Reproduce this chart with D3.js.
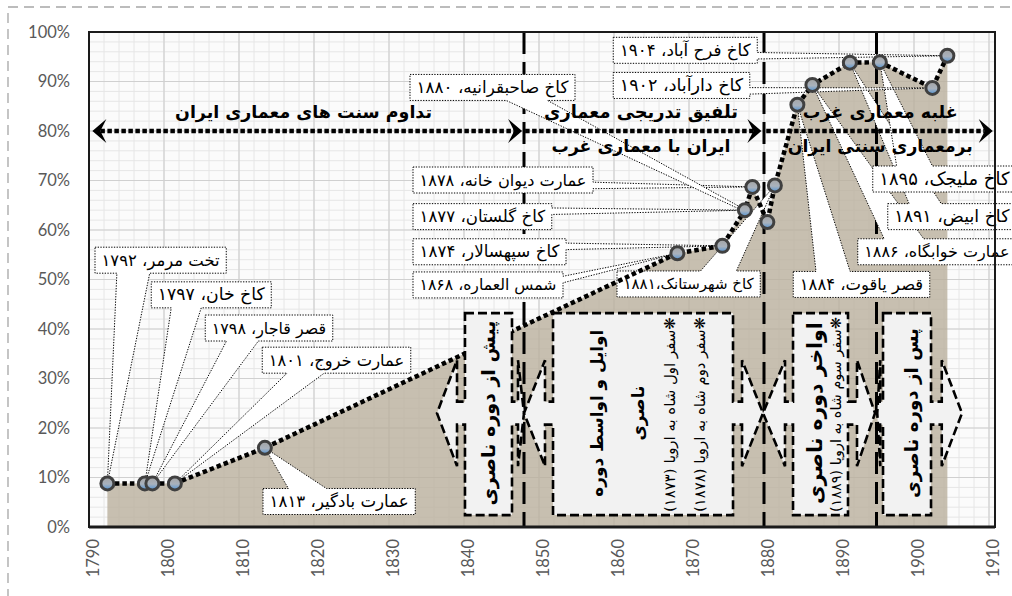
<!DOCTYPE html>
<html>
<head>
<meta charset="utf-8">
<script src="https://cdn.jsdelivr.net/npm/d3@7"></script>
<style>
  body { margin: 0; background: #fff; }
  svg text { font-family: "DejaVu Sans", sans-serif; }
  .axis text { font-family: Lato, "Open Sans", sans-serif; fill: #595959; }
</style>
</head>
<body>
<div id="chart"></div>
<script>
// ---- data ----
var years = [1792, 1797, 1798, 1801, 1813, 1868, 1874, 1877, 1878, 1880, 1881, 1884, 1886, 1891, 1895, 1902, 1904];
var shares = [8.8, 8.8, 8.8, 8.8, 16, 55.3, 56.8, 64, 68.7, 61.6, 69, 85.3, 89.3, 93.8, 93.9, 88.7, 95.2];
var buildings = ["تخت مرمر، ۱۷۹۲", "کاخ خان، ۱۷۹۷", "قصر قاجار، ۱۷۹۸", "عمارت خروج، ۱۸۰۱",
  "عمارت بادگیر، ۱۸۱۳", "شمس العماره، ۱۸۶۸", "کاخ سپهسالار، ۱۸۷۴", "کاخ گلستان، ۱۸۷۷",
  "عمارت دیوان خانه، ۱۸۷۸", "کاخ صاحبقرانیه، ۱۸۸۰", "کاخ شهرستانک،۱۸۸۱", "قصر یاقوت، ۱۸۸۴",
  "عمارت خوابگاه، ۱۸۸۶", "کاخ ابیض، ۱۸۹۱", "کاخ ملیجک، ۱۸۹۵", "کاخ دارآباد، ۱۹۰۲", "کاخ فرح آباد، ۱۹۰۴"];
var splits = [1848, 1880, 1895];
var eraTitles = [["تداوم سنت های معماری ایران"],
  ["تلفیق تدریجی معماری", "ایران با معماری غرب"],
  ["غلبه معماری غرب", "برمعماری سنتی ایران"]];
var periodTitles = [["پیش از دوره ناصری"], ["اوایل و اواسط دوره", "ناصری"], ["اواخر دوره ناصری"], ["پس از دوره ناصری"]];
var periodNotes = [[], ["❋سفر اول شاه به اروپا (۱۸۷۳)", "❋سفر دوم شاه به اروپا (۱۸۷۸)"], ["❋سفر سوم شاه به اروپا (۱۸۸۹)"], []];
var xTicks = d3.range(1790, 1911, 10);
var yTicks = d3.range(0, 101, 10);

// ---- layout (in axis units: year, percent) ----
var MID = 0.45; // markers sit mid-year on the date axis
// callout boxes: [left year, right year, centre %]
var calloutPos = [[1790.8, 1808.3, 53.9], [1798.3, 1814.3, 46.9], [1805.5, 1822.5, 40.2], [1813.1, 1832.9, 33.7],
  [1813.2, 1833.5, 5.15], [1833.2, 1853.2, 48.9], [1833.2, 1853.6, 55.6], [1833.2, 1851.7, 62.7],
  [1833.2, 1857.2, 70.1], [1832.8, 1854.8, 88.8], [1860.4, 1879.5, 49.1], [1883.9, 1902.1, 49.0],
  [1892.5, 1913.6, 55.6], [1896.5, 1913.6, 62.7], [1894.5, 1913.6, 70.3], [1859.9, 1878.1, 89.2], [1859.9, 1879.1, 96.3]];
// era headings: centre year, baselines %, widths px
var eraPos = [[1818.6, [82.6], [257]], [1863.6, [82.6, 75.75], [194, 179]], [1895.5, [82.6, 75.75], [155, 185]]];
// period boxes: body x1,x2, left tip/base, right base/tip
var periodPos = [[1840.13, 1846.4, 1836.4, 1839.07, 1847.2, 1848.0],
  [1851.87, 1875.87, 1848.0, 1850.8, 1877.07, 1879.87],
  [1883.87, 1891.2, 1879.87, 1882.8, 1892.4, 1894.8],
  [1895.87, 1902.27, 1895.1, 1895.5, 1903.7, 1906.4]];
var periodTitleX = [[1843.2], [1857.73, 1863.2], [1886.8], [1899.6]];
var periodTitleLen = [185, 167, 182, 170];
var periodNoteX = [[], [1867.47, 1871.47], [1889.6], []];

var W = 1012, H = 596;
var svg = d3.select("#chart").append("svg").attr("width", W).attr("height", H);

var x = d3.scaleLinear().domain([1790, 1910]).range([89, 989]);
var y = d3.scaleLinear().domain([0, 100]).range([527, 32]);
var plotL = 89, plotR = 995, plotT = 32, plotB = 527;

// outer dashed frame
svg.append("rect").attr("x", 8).attr("y", 7).attr("width", W + 20).attr("height", H + 20)
  .attr("fill", "none").attr("stroke", "#a6a6a6").attr("stroke-width", 1.3).attr("stroke-dasharray", "10,6");

var defs = svg.append("defs");
var grad = defs.append("linearGradient").attr("id", "mk").attr("x1", 0).attr("y1", 0).attr("x2", 0).attr("y2", 1);
grad.append("stop").attr("offset", "0%").attr("stop-color", "#a3a3a3");
grad.append("stop").attr("offset", "55%").attr("stop-color", "#a9b2bd");
grad.append("stop").attr("offset", "100%").attr("stop-color", "#4f93d6");
defs.append("marker").attr("id", "head").attr("viewBox", "-16 -14 18 28")
  .attr("markerUnits", "userSpaceOnUse").attr("markerWidth", 18).attr("markerHeight", 28)
  .attr("refX", 0).attr("refY", 0).attr("orient", "auto-start-reverse")
  .append("path").attr("d", "M0,0L-14,-12L-8,0L-14,12Z").attr("fill", "#000");

// plot area + grid
svg.append("rect").attr("x", plotL).attr("y", plotT).attr("width", plotR - plotL).attr("height", plotB - plotT)
  .attr("fill", "#fbfbfb");
var grid = svg.append("g");
grid.selectAll(".vm").data(d3.range(1790, 1912, 2)).enter().append("line")
  .attr("x1", d => x(d)).attr("x2", d => x(d)).attr("y1", plotT).attr("y2", plotB)
  .attr("stroke", "#e6e6e6").attr("stroke-width", 1);
grid.selectAll(".hm").data(d3.range(0, 101, 2)).enter().append("line")
  .attr("x1", plotL).attr("x2", plotR).attr("y1", d => y(d)).attr("y2", d => y(d))
  .attr("stroke", "#e6e6e6").attr("stroke-width", 1);
grid.selectAll(".vM").data(xTicks).enter().append("line")
  .attr("x1", d => x(d)).attr("x2", d => x(d)).attr("y1", plotT).attr("y2", plotB)
  .attr("stroke", "#d0d0d0").attr("stroke-width", 1.2);
grid.selectAll(".hM").data(yTicks).enter().append("line")
  .attr("x1", plotL).attr("x2", plotR).attr("y1", d => y(d)).attr("y2", d => y(d))
  .attr("stroke", "#d0d0d0").attr("stroke-width", 1.2);

var pts = years.map(function (yr, i) { return { year: yr, share: shares[i], name: buildings[i] }; });

// area under the series
svg.append("path").datum(pts)
  .attr("fill", "#b9ae9b").attr("fill-opacity", 0.78)
  .attr("d", d3.area().x(d => x(d.year + MID)).y0(y(0)).y1(d => y(d.share)));

// period separators
svg.selectAll(".sep").data(splits).enter().append("line")
  .attr("x1", d => x(d)).attr("x2", d => x(d)).attr("y1", plotT).attr("y2", plotB)
  .attr("stroke", "#000").attr("stroke-width", 3).attr("stroke-dasharray", "22,8");

function fit(sel, w) {
  sel.each(function () {
    var fs = parseFloat(this.getAttribute("font-size"));
    var len = this.getComputedTextLength();
    if (len > 0) this.setAttribute("font-size", (fs * w / len).toFixed(2));
  });
}

// callouts (wedge rectangle shape)
function callout(l, t, r, b, tx, ty) {
  var w = r - l, h = b - t, dx = tx - (l + r) / 2, dy = ty - (t + b) / 2;
  var vert = Math.abs(dy) > Math.abs(dx * h / w);
  var p = [[l, t]], a, c;
  if (vert && dy < 0) { a = l + w * (dx > 0 ? 7 : 2) / 12; c = l + w * (dx > 0 ? 10 : 5) / 12; p.push([a, t], [tx, ty], [c, t]); }
  p.push([r, t]);
  if (!vert && dx > 0) { a = t + h * (dy > 0 ? 7 : 2) / 12; c = t + h * (dy > 0 ? 10 : 5) / 12; p.push([r, a], [tx, ty], [r, c]); }
  p.push([r, b]);
  if (vert && dy > 0) { a = l + w * (dx > 0 ? 10 : 5) / 12; c = l + w * (dx > 0 ? 7 : 2) / 12; p.push([a, b], [tx, ty], [c, b]); }
  p.push([l, b]);
  if (!vert && dx < 0) { a = t + h * (dy > 0 ? 10 : 5) / 12; c = t + h * (dy > 0 ? 7 : 2) / 12; p.push([l, a], [tx, ty], [l, c]); }
  return "M" + p.join("L") + "Z";
}
var cg = svg.append("g");
pts.forEach(function (d, i) {
  var cp = calloutPos[i], l = x(cp[0]), r = x(cp[1]), cy = y(cp[2]);
  cg.append("path").attr("d", callout(l, cy - 13, r, cy + 13, x(d.year + MID), y(d.share)))
    .attr("fill", "#fff").attr("stroke", "#000").attr("stroke-width", 1).attr("stroke-dasharray", "1.3,1.4");
  var t = cg.append("text").attr("x", (l + r) / 2).attr("y", cy + 5.5).attr("direction", "rtl")
    .attr("text-anchor", "middle").attr("font-size", 15).attr("fill", "#000").text(d.name);
  fit(t, r - l - 13);
});

// series line
svg.append("path").datum(pts).attr("fill", "none").attr("stroke", "#000")
  .attr("stroke-width", 4.5).attr("stroke-dasharray", "4.5,3")
  .attr("d", d3.line().x(d => x(d.year + MID)).y(d => y(d.share)));

// markers
svg.selectAll(".pt").data(pts).enter().append("circle")
  .attr("cx", d => x(d.year + MID)).attr("cy", d => y(d.share)).attr("r", 6.5)
  .attr("fill", "url(#mk)").attr("stroke", "#404040").attr("stroke-width", 3);

// plot frame
svg.append("rect").attr("x", plotL).attr("y", plotT).attr("width", plotR - plotL).attr("height", plotB - plotT)
  .attr("fill", "none").attr("stroke", "#1a1a1a").attr("stroke-width", 2);
svg.append("line").attr("x1", plotL).attr("x2", plotR).attr("y1", plotB).attr("y2", plotB)
  .attr("stroke", "#1a1a1a").attr("stroke-width", 3);

// period boxes (left-right arrow callouts), drawn over the chart
var yTop = y(43.2), yBot = y(2.4), pcy = y(23), h1 = 11.5, h2 = 53;
periodPos.forEach(function (p, i) {
  var x1 = x(p[0]), x2 = x(p[1]), tl = x(p[2]), bl = x(p[3]), br = x(p[4]), tr = x(p[5]);
  var pp = [[x1, yTop], [x2, yTop], [x2, pcy - h1], [br, pcy - h1], [br, pcy - h2], [tr, pcy], [br, pcy + h2],
    [br, pcy + h1], [x2, pcy + h1], [x2, yBot], [x1, yBot], [x1, pcy + h1], [bl, pcy + h1], [bl, pcy + h2],
    [tl, pcy], [bl, pcy - h2], [bl, pcy - h1], [x1, pcy - h1]];
  svg.append("path").attr("d", "M" + pp.join("L") + "Z")
    .attr("fill", "#f2f2f2").attr("stroke", "#000").attr("stroke-width", 2.6).attr("stroke-dasharray", "9,4");
  var fs = null;
  periodTitles[i].forEach(function (t, j) {
    var tx = x(periodTitleX[i][j]);
    var el = svg.append("text").attr("transform", "translate(" + tx + "," + pcy + ") rotate(-90)")
      .attr("direction", "rtl").attr("text-anchor", "middle").attr("dominant-baseline", "central")
      .attr("font-weight", "bold").attr("font-size", fs || 17).attr("fill", "#000").text(t);
    if (j === 0) { fit(el, periodTitleLen[i]); fs = el.attr("font-size"); }
  });
  periodNotes[i].forEach(function (t, j) {
    var tx = x(periodNoteX[i][j]);
    var el = svg.append("text").attr("transform", "translate(" + tx + "," + y(22.7) + ") rotate(-90)")
      .attr("direction", "rtl").attr("text-anchor", "middle").attr("dominant-baseline", "central")
      .attr("font-size", 13).attr("fill", "#000").text(t);
    fit(el, 195);
  });
});

// 80% arrows
var arrows = [[1790.45, 1847.75, true], [1848.15, 1879.65, false], [1880.3, 1910.5, false]];
arrows.forEach(function (a) {
  svg.append("line").attr("x1", x(a[0]) + (a[2] ? 8 : 0)).attr("x2", x(a[1]) - 8)
    .attr("y1", y(80)).attr("y2", y(80))
    .attr("stroke", "#000").attr("stroke-width", 4.5).attr("stroke-dasharray", "4.5,2.5");
  svg.append("line").attr("x1", x(a[1]) - 9).attr("x2", x(a[1])).attr("y1", y(80)).attr("y2", y(80))
    .attr("stroke", "none").attr("marker-end", "url(#head)");
  if (a[2]) svg.append("line").attr("x1", x(a[0])).attr("x2", x(a[0]) + 9).attr("y1", y(80)).attr("y2", y(80))
    .attr("stroke", "none").attr("marker-start", "url(#head)");
});

// era headings
eraTitles.forEach(function (lines, i) {
  lines.forEach(function (t, j) {
    var tx = svg.append("text").attr("x", x(eraPos[i][0])).attr("y", y(eraPos[i][1][j]))
      .attr("direction", "rtl").attr("text-anchor", "middle").attr("font-weight", "bold")
      .attr("font-size", 20).attr("fill", "#000").text(t);
    fit(tx, eraPos[i][2][j]);
  });
});

// axes labels
var ax = svg.append("g").attr("class", "axis");
ax.selectAll(".yl").data(yTicks).enter().append("text")
  .attr("x", 70).attr("y", d => y(d)).attr("dy", "0.36em").attr("text-anchor", "end")
  .attr("font-size", 16.5).text(d => d + "%");
ax.selectAll(".xl").data(xTicks).enter().append("text")
  .attr("transform", d => "translate(" + (x(d) + 4) + ",539) rotate(-90)")
  .attr("text-anchor", "end").attr("dominant-baseline", "central")
  .attr("font-size", 16.5).text(d => d);
</script>
</body>
</html>
